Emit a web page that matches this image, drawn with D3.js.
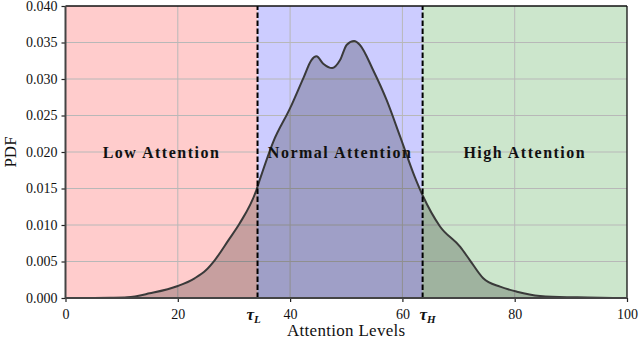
<!DOCTYPE html>
<html>
<head>
<meta charset="utf-8">
<script src="https://cdn.jsdelivr.net/npm/d3@7"></script>
<style>
  body { margin: 0; background: #fff; }
  svg text { font-family: "Liberation Serif", "DejaVu Serif", serif; fill: #111; }
</style>
</head>
<body>
<div id="chart"></div>
<script>
let width = 640;
let height = 339;
let margin = {top: 6, right: 13, bottom: 41, left: 65.5};

// density curve
let levels = [5, 8, 11, 15, 20, 23, 25, 26.6, 29, 31, 34, 34.6, 37, 40, 42.4, 43.8, 44.7, 45.9, 47.5, 48.9, 50.1, 51.4, 52.4, 54.8, 57.2, 59.6, 62.2, 63.7, 66.7, 70.3, 72, 74.4, 77.4, 80.4, 84.5, 89.3, 93, 97.5];
let pdf = [0, 0.00003, 0.0001, 0.00064, 0.00164, 0.0027, 0.0038, 0.0052, 0.0079, 0.0102, 0.0148, 0.0162, 0.0214, 0.0260, 0.0302, 0.0326, 0.0331, 0.0321, 0.0315, 0.0326, 0.0347, 0.0352, 0.0347, 0.0312, 0.0271, 0.0221, 0.0166, 0.0139, 0.0098, 0.0070, 0.0052, 0.0027, 0.00155, 0.00086, 0.00027, 0.0001, 0.00008, 0];

let tauL = 34.2;
let tauH = 63.6;
let regionNames = ['Low Attention', 'Normal Attention', 'High Attention'];
let regionColors = ['#ffcccc', '#ccccff', '#cce6cc'];
let xTicks = [0, 20, 40, 60, 80, 100];
let yTicks = [0, 0.005, 0.01, 0.015, 0.02, 0.025, 0.03, 0.035, 0.04];

let data = levels.map((x, i) => ({x: x, y: pdf[i]}));
let bounds = [0, tauL, tauH, 100];

let xScale = d3.scaleLinear().domain([0, 100]).range([margin.left, width - margin.right]);
let yScale = d3.scaleLinear().domain([0, 0.04]).range([height - margin.bottom, margin.top]);

let svg = d3.select('#chart')
    .append('svg')
    .attr('width', width)
    .attr('height', height);

// shaded regions
svg.selectAll('rect.region')
    .data(regionNames)
    .enter()
    .append('rect')
    .attr('class', 'region')
    .attr('x', (d, i) => xScale(bounds[i]))
    .attr('width', (d, i) => xScale(bounds[i + 1]) - xScale(bounds[i]))
    .attr('y', yScale(0.04))
    .attr('height', yScale(0) - yScale(0.04))
    .attr('fill', (d, i) => regionColors[i]);

// grid
svg.append('g').selectAll('line')
    .data(xTicks.slice(1, -1))
    .enter()
    .append('line')
    .attr('x1', d => xScale(d)).attr('x2', d => xScale(d))
    .attr('y1', yScale(0)).attr('y2', yScale(0.04))
    .attr('stroke', '#b8b8b8').attr('stroke-width', 1);

svg.append('g').selectAll('line')
    .data(yTicks.slice(1, -1))
    .enter()
    .append('line')
    .attr('x1', xScale(0)).attr('x2', xScale(100))
    .attr('y1', d => yScale(d)).attr('y2', d => yScale(d))
    .attr('stroke', '#b8b8b8').attr('stroke-width', 1);

// density
let area = d3.area()
    .x(d => xScale(d.x))
    .y0(yScale(0))
    .y1(d => yScale(d.y))
    .curve(d3.curveMonotoneX);

let line = d3.line()
    .x(d => xScale(d.x))
    .y(d => yScale(d.y))
    .curve(d3.curveMonotoneX);

svg.append('path')
    .datum(data)
    .attr('d', area)
    .attr('fill', '#000')
    .attr('fill-opacity', 0.22);

svg.append('path')
    .datum(data)
    .attr('d', line)
    .attr('fill', 'none')
    .attr('stroke', '#3a3a3a')
    .attr('stroke-width', 2);

// thresholds
svg.selectAll('line.tau')
    .data([tauL, tauH])
    .enter()
    .append('line')
    .attr('class', 'tau')
    .attr('x1', d => xScale(d)).attr('x2', d => xScale(d))
    .attr('y1', yScale(0)).attr('y2', yScale(0.04))
    .attr('stroke', '#000')
    .attr('stroke-width', 2)
    .attr('stroke-dasharray', '5.5,2.5');

// region labels
svg.selectAll('text.region')
    .data(regionNames)
    .enter()
    .append('text')
    .attr('class', 'region')
    .attr('x', (d, i) => xScale((bounds[i] + bounds[i + 1]) / 2))
    .attr('y', yScale(0.02))
    .attr('dy', '0.35em')
    .attr('text-anchor', 'middle')
    .style('font-size', '16px')
    .style('font-weight', 'bold')
    .style('letter-spacing', '1.5px')
    .text(d => d);

// axes
let xAxis = d3.axisBottom(xScale).tickValues(xTicks).tickSize(4).tickFormat(d3.format('d'));
let yAxis = d3.axisLeft(yScale).tickValues(yTicks).tickSize(4).tickFormat(d3.format('.3f'));

let gx = svg.append('g')
    .attr('transform', `translate(0,${yScale(0)})`)
    .call(xAxis);
let gy = svg.append('g')
    .attr('transform', `translate(${xScale(0)},0)`)
    .call(yAxis);

[gx, gy].forEach(g => {
    g.select('.domain').remove();
    g.selectAll('.tick line').attr('stroke', '#222').attr('stroke-width', 1.2);
    g.selectAll('.tick text').style('font-size', '14px').attr('fill', '#111');
});
gx.selectAll('.tick text').attr('dy', '1.0em');
gy.selectAll('.tick text').attr('dx', '-1px');

// spines
svg.append('line')
    .attr('x1', xScale(0)).attr('x2', xScale(100))
    .attr('y1', yScale(0.04)).attr('y2', yScale(0.04))
    .attr('stroke', '#111').attr('stroke-width', 1.3);
svg.append('line')
    .attr('x1', xScale(100)).attr('x2', xScale(100))
    .attr('y1', yScale(0)).attr('y2', yScale(0.04))
    .attr('stroke', '#111').attr('stroke-width', 1.3);
svg.append('line')
    .attr('x1', xScale(0)).attr('x2', xScale(0))
    .attr('y1', yScale(0)).attr('y2', yScale(0.04))
    .attr('stroke', '#444').attr('stroke-width', 2);
svg.append('line')
    .attr('x1', xScale(0)).attr('x2', xScale(100))
    .attr('y1', yScale(0)).attr('y2', yScale(0))
    .attr('stroke', '#444').attr('stroke-width', 2);

// tau labels
let tauLabels = [{x: tauL, sub: 'L', dx: -4}, {x: tauH, sub: 'H', dx: 5}];
svg.selectAll('text.taulab')
    .data(tauLabels)
    .enter()
    .append('text')
    .attr('class', 'taulab')
    .attr('x', d => xScale(d.x) + d.dx)
    .attr('y', yScale(0) + 22)
    .attr('text-anchor', 'middle')
    .style('font-size', '17px')
    .style('font-weight', 'bold')
    .style('font-style', 'italic')
    .each(function(d) {
        let t = d3.select(this);
        t.append('tspan').text('τ');
        t.append('tspan').attr('dy', '3').style('font-size', '11px').text(d.sub);
    });

// axis titles
svg.append('text')
    .attr('x', xScale(50))
    .attr('y', height - 3)
    .attr('text-anchor', 'middle')
    .style('font-size', '17px')
    .style('letter-spacing', '0.3px')
    .text('Attention Levels');

svg.append('text')
    .attr('transform', `translate(16,${yScale(0.02)}) rotate(-90)`)
    .attr('text-anchor', 'middle')
    .style('font-size', '17px')
    .text('PDF');
</script>
</body>
</html>
